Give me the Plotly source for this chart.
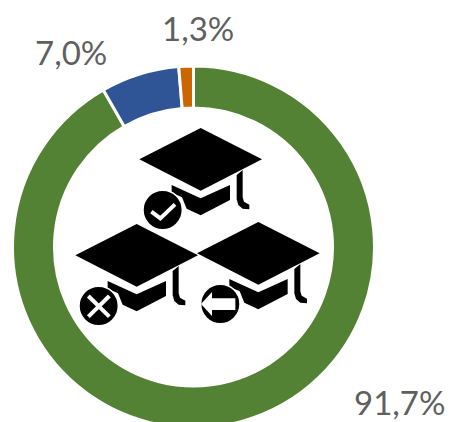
import plotly.graph_objects as go

categories = ["Completed", "Dropped out", "Transferred"]
values = [91.7, 7.0, 1.3]
value_labels = ["91,7%", "7,0%", "1,3%"]
colors = ["#548235", "#2F5597", "#CC6600"]

W, H = 450, 430
CX, CY, R = 193.5, 247, 181


def fx(x):
    return x / W


def fy(y):
    return 1 - y / H


def path(points, close=True):
    s = "M" + " L".join(f"{fx(x):.5f},{fy(y):.5f}" for x, y in points)
    return s + (" Z" if close else "")


def z(dx, dy, pts):
    return [(60 + (px + dx) / 3, 110 + (py + dy) / 3) for px, py in pts]


BOARD = [(422, 54), (606, 148), (422, 242), (238, 148)]
BODY = [(335, 225), (422, 265), (510, 225), (510, 270), (422, 316), (380, 296), (366, 262), (335, 248)]
TASSEL = [(530, 195), (548, 180), (548, 262), (552, 275), (568, 284), (568, 298),
          (548, 296), (535, 285), (530, 268)]
ICON_C = (308, 300)
ICON_R = 59

shapes = []
for dx, dy in [(0, 0), (-192, 288), (173, 282)]:
    for part in (BOARD, BODY, TASSEL):
        shapes.append(dict(type="path", xref="paper", yref="paper", path=path(z(dx, dy, part)),
                           fillcolor="black", line=dict(width=0), layer="above"))
    (cx, cy), = z(dx, dy, [ICON_C])
    r = ICON_R / 3
    shapes.append(dict(type="circle", xref="paper", yref="paper",
                       x0=fx(cx - r), x1=fx(cx + r), y0=fy(cy + r), y1=fy(cy - r),
                       fillcolor="black", line=dict(color="white", width=1.5), layer="above"))

white_line = dict(color="white", width=4)
shapes.append(dict(type="path", xref="paper", yref="paper", layer="above", line=white_line,
                   path=path(z(0, 0, [(274, 305), (301, 325), (345, 283)]), close=False)))
for seg in ([(85, 558), (148, 620)], [(148, 558), (85, 620)]):
    shapes.append(dict(type="path", xref="paper", yref="paper", layer="above", line=white_line,
                       path=path(z(0, 0, seg), close=False)))
shapes.append(dict(type="path", xref="paper", yref="paper", layer="above", fillcolor="white",
                   line=dict(width=0),
                   path=path(z(0, 0, [(423, 582), (456, 546), (456, 565), (526, 565),
                                      (526, 600), (456, 600), (456, 618)]))))

fig = go.Figure(go.Pie(
    labels=categories,
    values=values,
    sort=False,
    direction="clockwise",
    rotation=0,
    hole=0.768,
    textinfo="none",
    marker=dict(colors=colors, line=dict(color="white", width=3)),
    domain=dict(x=[fx(CX - R), fx(CX + R)], y=[fy(CY + R), fy(CY - R)]),
    showlegend=False,
))

label_pos = [(399, 402), (71, 52), (198, 28)]
annotations = [
    dict(text=t, x=fx(x), y=fy(y), xref="paper", yref="paper", showarrow=False,
         xanchor="center", yanchor="middle",
         font=dict(family="Lato", size=33, color="#5f5f5f"))
    for t, (x, y) in zip(value_labels, label_pos)
]

fig.update_layout(width=W, height=H, margin=dict(l=0, r=0, t=0, b=0),
                  paper_bgcolor="white", plot_bgcolor="white",
                  shapes=shapes, annotations=annotations)

fig.write_html("out.html", config={"displayModeBar": False}, post_script=(
    "document.documentElement.style.overflow='hidden';"
    "document.body.style.overflow='hidden';document.body.style.margin='0';"
))
